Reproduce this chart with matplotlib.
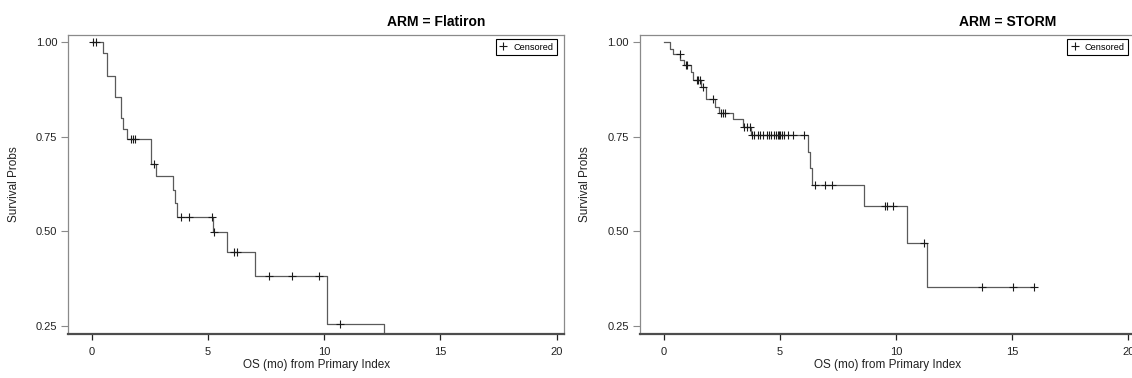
import numpy as np
import matplotlib
matplotlib.use("Agg")
from matplotlib import pyplot as plt
from matplotlib.lines import Line2D

plt.rcParams['font.family'] = ['Liberation Sans', 'DejaVu Sans']

# ARM = Flatiron
flat_t = [0, 0.48, 0.64, 0.98, 1.25, 1.36, 1.51, 2.55, 2.77, 3.50, 3.58, 3.66,
          5.22, 5.83, 7.01, 10.11, 12.59]
flat_s = [1.0, 0.972, 0.912, 0.855, 0.801, 0.772, 0.743, 0.678, 0.646, 0.610,
          0.576, 0.539, 0.498, 0.446, 0.382, 0.256, 0.0]
flat_cens = [0.05, 0.17, 1.70, 1.79, 1.88, 2.66, 3.83, 4.19, 5.16, 5.28, 6.12,
             6.23, 7.62, 8.61, 9.77, 10.67]

# ARM = STORM
storm_t = [0, 0.28, 0.40, 0.70, 0.87, 1.20, 1.26, 1.62, 1.82, 2.23, 2.37, 2.99,
           3.43, 3.75, 6.20, 6.32, 6.40, 8.63, 10.47, 11.34]
storm_s = [1.0, 0.982, 0.969, 0.952, 0.939, 0.921, 0.901, 0.883, 0.849, 0.829,
           0.813, 0.798, 0.776, 0.754, 0.711, 0.667, 0.622, 0.567, 0.470, 0.353]
storm_cens = [0.69, 0.95, 0.99, 1.42, 1.50, 1.57, 1.68, 2.13, 2.49, 2.57, 2.65,
              3.47, 3.58, 3.71, 3.80, 3.89, 4.05, 4.17, 4.30, 4.44, 4.53, 4.64,
              4.74, 4.83, 4.91, 4.97, 5.03, 5.11, 5.20, 5.34, 5.58, 6.04, 6.54,
              6.95, 7.24, 9.52, 9.63, 9.86, 11.20, 13.71, 15.03, 15.93]

xticks = [0, 5, 10, 15, 20]
yticks = [0.25, 0.50, 0.75, 1.00]

fig = plt.figure(figsize=(11.32, 3.78), dpi=100)

panels = [
    ([0.0603, 0.1172, 0.4379, 0.791], "ARM = Flatiron", flat_t, flat_s, flat_cens),
    ([0.5654, 0.1172, 0.4379, 0.791], "ARM = STORM", storm_t, storm_s, storm_cens),
]

for pos, title, t, s, cens in panels:
    ax = fig.add_axes(pos)
    t = np.array(t)
    s = np.array(s)
    cens = np.array(cens)
    end = max(t[-1], cens.max())
    x = np.append(t, end)
    y = np.append(s, s[-1])
    ax.step(x, y, where='post', color='#5a5a5a', lw=0.9)
    cy = s[np.searchsorted(t, cens, side='right') - 1]
    ax.plot(cens, cy, '+', color='#1a1a1a', ms=6, mew=0.8, ls='none')

    ax.set_xlim(-1.01, 20.32)
    ax.set_ylim(0.2297, 1.020)
    ax.set_xticks(xticks)
    ax.set_yticks(yticks)
    ax.set_yticklabels(['%.2f' % v for v in yticks])

    for side in ['left', 'top', 'right']:
        ax.spines[side].set_color('#8a8a8a')
        ax.spines[side].set_linewidth(0.9)
    ax.spines['bottom'].set_color('#4d4d4d')
    ax.spines['bottom'].set_linewidth(1.6)

    ax.tick_params(axis='y', colors='#222222', labelsize=8, length=5,
                   width=0.8, pad=3)
    ax.tick_params(axis='y', color='#8a8a8a')
    ax.tick_params(axis='x', colors='#222222', labelsize=8, length=4.5,
                   width=0.9, pad=5)

    ax.set_xlabel('OS (mo) from Primary Index', size=8.5, color='#222222')
    ax.set_ylabel('Survival Probs', size=8.5, color='#222222')
    ax.xaxis.set_label_coords(0.5, -0.085)
    ax.yaxis.set_label_coords(-0.098, 0.5)

    ax.text(0.742, 1.0 + 13 / 299.0, title, transform=ax.transAxes,
            ha='center', va='center', fontsize=10, fontweight='bold')

    h = Line2D([], [], color='#1a1a1a', marker='+', ls='none', ms=6, mew=0.8)
    leg = ax.legend([h], ['Censored'], loc='upper right',
                    bbox_to_anchor=(0.9853, 0.9856), borderaxespad=0,
                    fontsize=6.6, handlelength=0.9, handletextpad=0.6,
                    borderpad=0.4, fancybox=False, framealpha=1)
    leg.get_frame().set_edgecolor('black')
    leg.get_frame().set_linewidth(0.8)

plt.savefig('out.png', dpi=100)
